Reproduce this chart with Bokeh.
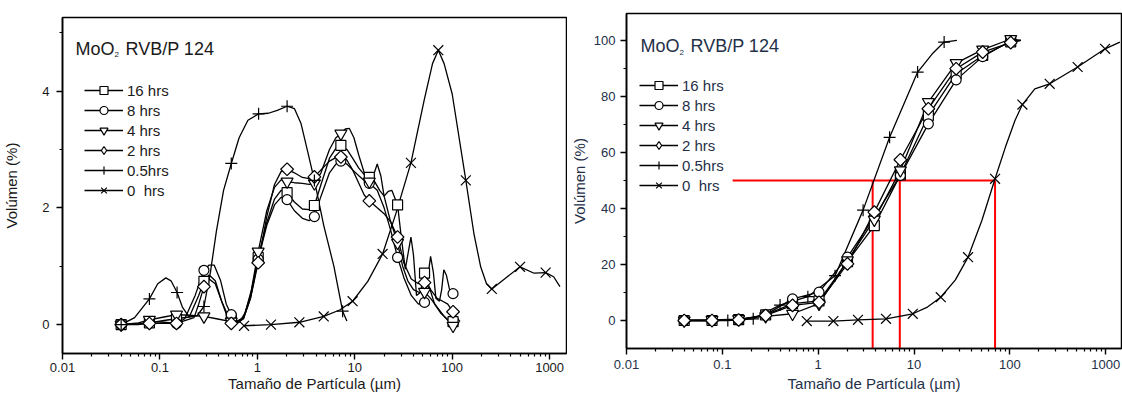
import numpy as np
from bokeh.plotting import figure
from bokeh.layouts import row
from bokeh.models import FixedTicker, CustomJSTickFormatter, Legend, LegendItem, Label
from bokeh.embed import file_html
from bokeh.resources import INLINE

FONT = "Liberation Sans"

# ---------------- tick labels ----------------
X_MAJOR = [0.01, 0.1, 1, 10, 100, 1000]
X_MINOR = [m * 10.0 ** e for e in range(-2, 4) for m in range(2, 10)]
L_Y_MAJOR = [0, 2, 4]
L_Y_MINOR = [1, 3, 5]
R_Y_MAJOR = [0, 20, 40, 60, 80, 100]
R_Y_MINOR = [10, 30, 50, 70, 90]

SERIES = ["16 hrs", "8 hrs", "4 hrs", "2 hrs", "0.5hrs", "0  hrs"]
X_TITLE = "Tamaño de Partícula (µm)"
Y_TITLE = "Volúmen (%)"

# ---------------- left panel: frequency distribution (%) ----------------
lx_mk = [0.04, 0.078, 0.148, 0.283, 0.54, 1.02, 2.02, 3.85, 7.2, 14.1, 27.5, 52, 102]
l16_mk = [0, 0.03, 0.10, 0.74, 0.10, 1.15, 2.26, 2.04, 3.07, 2.52, 2.05, 0.88, 0.05]
l8_mk = [0, 0.05, 0.02, 0.93, 0.17, 1.12, 2.14, 1.85, 2.80, 2.42, 1.15, 0.38, 0.53]
l4_mk = [0, 0.08, 0.17, 0.14, 0.05, 1.25, 2.45, 2.42, 3.27, 2.45, 1.40, 0.56, -0.02]
l2_mk = [0, 0.02, 0.02, 0.65, 0.02, 1.06, 2.66, 2.53, 2.87, 2.12, 1.50, 0.72, 0.22]
l05_x_mk = [0.04, 0.078, 0.15, 0.283, 0.54, 1.03, 2.02, 3.85, 7.5]
l05_mk = [0, 0.44, 0.55, 0.31, 2.76, 3.61, 3.74, 2.47, 0.23]
l0_x_mk = [0.73, 1.38, 2.7, 4.8, 9.5, 19.3, 37.7, 72, 138, 255, 497, 910]
l0_mk = [-0.02, 0.0, 0.04, 0.14, 0.40, 1.21, 2.77, 4.70, 2.47, 0.61, 0.99, 0.89]

l16_ln_x = [0.04, 0.06, 0.078, 0.11, 0.148, 0.2, 0.25, 0.283, 0.32, 0.37, 0.43, 0.5, 0.54, 0.62, 0.72, 0.85,
            1.02, 1.25, 1.5, 1.75, 2.02, 2.4, 2.9, 3.4, 3.85, 4.5, 5.5, 6.4, 7.2, 8.3, 9.5, 11, 12.5, 14.1,
            16, 18, 20, 22, 24, 27.5, 30, 33, 35.5, 37.7, 40, 43, 47, 52, 58, 66, 76, 88, 102, 115]
l16_ln = [0, 0.0, 0.03, 0.07, 0.10, 0.13, 0.5, 0.74, 0.85, 0.75, 0.4, 0.15, 0.10, 0.06, 0.12, 0.5,
          1.15, 1.75, 2.15, 2.3, 2.26, 2.1, 1.98, 1.97, 2.04, 2.4, 2.85, 3.02, 3.07, 3.0, 2.85, 2.68, 2.57, 2.52,
          2.45, 2.3, 2.2, 2.28, 2.3, 2.05, 1.5, 0.95, 1.25, 1.5, 1.2, 0.5, 0.55, 0.88, 0.65, 0.35, 0.2, 0.1, 0.05, 0.0]
l8_ln_x = [0.04, 0.06, 0.078, 0.11, 0.148, 0.18, 0.23, 0.283, 0.32, 0.36, 0.42, 0.48, 0.54, 0.62, 0.72, 0.85,
           1.02, 1.25, 1.5, 1.75, 2.02, 2.4, 2.9, 3.4, 3.85, 4.5, 5.5, 6.4, 7.2, 8.3, 9.5, 11, 12.5, 14.1,
           17, 20, 23.5, 27.5, 32, 38, 45, 52, 56, 60, 64, 68, 74, 78, 82, 87, 94, 102]
l8_ln = [0, 0.01, 0.05, 0.04, 0.02, 0.10, 0.5, 0.93, 1.02, 1.02, 0.75, 0.35, 0.17, 0.05, 0.10, 0.45,
         1.12, 1.7, 2.05, 2.18, 2.14, 1.95, 1.82, 1.78, 1.85, 2.2, 2.6, 2.75, 2.80, 2.75, 2.65, 2.55, 2.47, 2.42,
         2.3, 2.0, 1.6, 1.15, 0.8, 0.5, 0.35, 0.38, 0.8, 1.17, 0.9, 0.45, 0.4, 0.6, 0.94, 0.85, 0.6, 0.53]
l4_ln_x = [0.04, 0.06, 0.078, 0.11, 0.148, 0.2, 0.283, 0.38, 0.54, 0.65, 0.75, 0.87, 1.02, 1.25, 1.5, 1.75,
           2.02, 2.4, 2.9, 3.4, 3.85, 4.5, 5.5, 6.4, 7.2, 8.0, 8.8, 9.8, 11, 12.5, 14.1, 15.5, 17, 18.5, 20,
           23, 27.5, 31, 35, 40, 46, 52, 60, 70, 82, 95, 102, 115]
l4_ln = [0, 0.03, 0.08, 0.13, 0.17, 0.16, 0.14, 0.10, 0.05, 0.04, 0.2, 0.6, 1.25, 1.95, 2.35, 2.48,
         2.45, 2.43, 2.42, 2.40, 2.42, 2.6, 3.0, 3.2, 3.27, 3.35, 3.36, 3.2, 2.9, 2.6, 2.45, 2.55, 2.75, 2.55, 2.2,
         1.8, 1.40, 1.0, 0.75, 0.6, 0.55, 0.56, 0.45, 0.3, 0.15, 0.03, -0.02, 0.0]
l2_ln_x = [0.04, 0.06, 0.078, 0.11, 0.148, 0.19, 0.224, 0.25, 0.283, 0.32, 0.37, 0.43, 0.5, 0.54, 0.62, 0.72,
           0.85, 1.02, 1.25, 1.5, 1.75, 2.02, 2.4, 2.9, 3.4, 3.85, 4.5, 5.5, 6.4, 7.2, 8.3, 9.5, 11, 12.5, 14.1,
           17, 20, 23.5, 27.5, 32, 38, 45, 52, 60, 70, 80, 90, 102, 120]
l2_ln = [0, 0.01, 0.02, 0.02, 0.02, 0.08, 0.12, 0.35, 0.65, 0.78, 0.7, 0.4, 0.1, 0.02, 0.02, 0.1,
         0.45, 1.06, 1.85, 2.4, 2.62, 2.66, 2.6, 2.52, 2.5, 2.53, 2.65, 2.8, 2.86, 2.87, 2.82, 2.65, 2.42, 2.22, 2.12,
         2.0, 1.9, 1.75, 1.5, 1.05, 0.78, 0.7, 0.72, 0.6, 0.45, 0.4, 0.35, 0.22, 0.05]
l05_ln_x = [0.04, 0.055, 0.078, 0.095, 0.115, 0.13, 0.15, 0.17, 0.2, 0.24, 0.283, 0.33, 0.38, 0.45, 0.54,
            0.65, 0.8, 1.03, 1.3, 1.6, 2.02, 2.4, 2.8, 3.3, 3.85, 4.8, 6.1, 7.5, 8.3]
l05_ln = [0, 0.12, 0.44, 0.70, 0.80, 0.75, 0.55, 0.30, 0.13, 0.15, 0.31, 0.9, 1.6, 2.3, 2.76,
          3.2, 3.5, 3.61, 3.62, 3.67, 3.74, 3.70, 3.45, 2.95, 2.47, 1.7, 1.0, 0.23, 0.06]
l0_ln_x = [0.73, 1.38, 2.7, 4.8, 7.0, 9.5, 13.6, 19.3, 26.4, 37.7, 51.5, 62.8, 72, 82.6, 100, 138, 167,
           196, 225, 255, 368, 497, 692, 910, 1100, 1276]
l0_ln = [-0.02, 0.0, 0.04, 0.14, 0.25, 0.40, 0.74, 1.21, 1.9, 2.77, 3.84, 4.47, 4.70, 4.47, 3.95, 2.47, 1.56,
         0.99, 0.7, 0.61, 0.82, 0.99, 0.88, 0.89, 0.82, 0.65]

# ---------------- right panel: cumulative volume (%) ----------------
rx_mk = [0.04, 0.078, 0.148, 0.283, 0.54, 1.02, 2.02, 3.85, 7.2, 14.1, 27.5, 52, 102]
r16_mk = [0, 0, 0.3, 2.0, 6.0, 7.0, 21.0, 33.9, 52.0, 73.2, 88.1, 94.6, 99.5]
r8_mk = [0, 0, 0.2, 2.0, 7.7, 10.1, 22.6, 37.0, 51.8, 70.2, 85.9, 94.2, 99.8]
r4_mk = [0, 0.2, 0.5, 1.5, 2.4, 6.0, 21.5, 36.0, 53.6, 78.0, 91.9, 96.7, 100.5]
r2_mk = [0, 0, 0.2, 1.8, 5.4, 6.5, 20.2, 38.7, 57.4, 75.6, 89.9, 95.8, 99.2]
rx_ln = [0.04, 0.078, 0.148, 0.283, 0.54, 1.02, 2.02, 3.85, 7.2, 14.1, 27.5, 52, 102, 130]
r16_ln = [0, 0, 0.3, 2.0, 6.0, 7.0, 21.0, 33.9, 52.0, 73.2, 88.1, 94.6, 99.5, 100]
r8_ln = [0, 0, 0.2, 2.0, 7.7, 10.1, 22.6, 37.0, 51.8, 70.2, 85.9, 94.2, 99.8, 100]
r4_ln = [0, 0.2, 0.5, 1.5, 2.4, 6.0, 21.5, 36.0, 53.6, 78.0, 91.9, 96.7, 100.5, 100]
r2_ln = [0, 0, 0.2, 1.8, 5.4, 6.5, 20.2, 38.7, 57.4, 75.6, 89.9, 95.8, 99.2, 100]
r05_x_mk = [0.114, 0.21, 0.40, 0.78, 1.5, 2.94, 5.56, 10.9, 20.6]
r05_mk = [0, 0.6, 5.5, 8.5, 16.0, 39.4, 65.4, 88.7, 99.4]
r05_ln_x = [0.04, 0.114, 0.21, 0.40, 0.78, 1.5, 2.94, 5.56, 10.9, 15.5, 20.6, 28]
r05_ln = [0, 0, 0.6, 5.5, 8.5, 16.0, 39.4, 65.4, 88.7, 95.2, 99.4, 100]
r0_x_mk = [0.76, 1.44, 2.6, 5.1, 9.7, 19, 36.6, 70, 135, 260, 509, 984]
r0_mk = [-0.2, -0.2, 0.25, 0.6, 2.4, 8.3, 22.6, 50.6, 77.1, 84.5, 90.5, 97.0]
r0_ln_x = [0.76, 1.44, 2.6, 5.1, 9.7, 13.8, 19, 27, 36.6, 51, 70, 90, 113, 135, 182, 260, 509, 984, 1405]
r0_ln = [-0.2, -0.2, 0.25, 0.6, 2.4, 4.8, 8.3, 14.5, 22.6, 35.7, 50.6, 62, 71.4, 77.1, 82.7, 84.5, 90.5, 97.0, 99.4]

# D50 guide lines (red)
d50_sizes = [3.7, 7.1, 70]
d50_level = 50
guide_start = 0.128
guide_floor = -10


def make_panel(width, x_end, y_range, b_left, b_right, b_top, b_bottom, y_major, y_minor, ink,
               lab_standoff, y_title_standoff, x_lab_standoff, x_title_standoff):
    p = figure(width=width, height=394, x_axis_type="log", x_range=(0.01, x_end), y_range=y_range,
               output_backend="svg", toolbar_location=None, frame_align=False,
               min_border_left=b_left, min_border_right=b_right,
               min_border_top=b_top, min_border_bottom=b_bottom)
    p.xgrid.visible = False
    p.ygrid.visible = False
    p.outline_line_color = "black"
    p.outline_line_width = 1.5
    p.outline_line_alpha = 1.0
    p.background_fill_color = "white"
    p.border_fill_color = "white"
    p.xaxis.ticker = FixedTicker(ticks=X_MAJOR, minor_ticks=X_MINOR)
    p.xaxis.formatter = CustomJSTickFormatter(code="return String(tick);")
    p.yaxis.ticker = FixedTicker(ticks=y_major, minor_ticks=y_minor)
    for ax in (p.xaxis[0], p.yaxis[0]):
        ax.axis_line_width = 1.6
        ax.axis_line_color = "black"
        ax.major_tick_line_width = 1.4
        ax.minor_tick_line_width = 1.2
        ax.major_tick_line_color = "black"
        ax.minor_tick_line_color = "black"
        ax.major_tick_in = 0
        ax.major_tick_out = 6
        ax.minor_tick_in = 0
        ax.minor_tick_out = 3
        ax.major_label_text_font = FONT
        ax.major_label_text_font_size = "13px"
        ax.major_label_text_color = ink
        ax.major_label_text_line_height = 1.0
        ax.axis_label_text_font = FONT
        ax.axis_label_text_font_size = "15px"
        ax.axis_label_text_font_style = "normal"
        ax.axis_label_text_color = ink
        ax.axis_label_text_line_height = 1.0
    p.yaxis.major_label_standoff = lab_standoff
    p.yaxis.axis_label_standoff = y_title_standoff
    p.xaxis.major_label_standoff = x_lab_standoff
    p.xaxis.axis_label_standoff = x_title_standoff
    p.yaxis.axis_label = Y_TITLE
    p.xaxis.axis_label = X_TITLE
    return p


def add_series(p, lines, marks, legend_loc, ink):
    styles = [
        dict(marker="square", size=10, angle=0.0),
        dict(marker="circle", size=10, angle=0.0),
        dict(marker="inverted_triangle", size=12, angle=0.0),
        dict(marker="square", size=9, angle=np.pi / 4),
        dict(marker="cross", size=12, angle=0.0),
        dict(marker="x", size=14, angle=0.0),
    ]
    line_rs = []
    for (lx, ly) in lines:
        line_rs.append(p.line(lx, ly, line_color="black", line_width=1.3))
    mark_rs = []
    for (mx, my), st in zip(marks, styles):
        mark_rs.append(p.scatter(mx, my, marker=st["marker"], size=st["size"], angle=st["angle"],
                                 line_color="black", fill_color="white", line_width=1.2))
    # legend proxy for the diamond (legend glyphs ignore marker rotation); NaN -> nothing drawn in plot
    diamond_proxy = p.scatter([np.nan], [np.nan], marker="diamond", size=12,
                              line_color="black", fill_color="white", line_width=1.2)
    legend_marks = list(mark_rs)
    legend_marks[3] = diamond_proxy
    items = [LegendItem(label=lab, renderers=[lr, mr]) for lab, lr, mr in zip(SERIES, line_rs, legend_marks)]
    leg = Legend(items=items, location=legend_loc, glyph_width=39, glyph_height=20, label_height=20,
                 spacing=0, padding=0, margin=0, label_standoff=4, border_line_alpha=0,
                 background_fill_alpha=0, label_text_font=FONT, label_text_font_size="15px",
                 label_text_color=ink)
    p.add_layout(leg)


def add_title(p, x0, base, sub_base, ink):
    p.add_layout(Label(x=x0, y=base, x_units="screen", y_units="screen", text="MoO",
                       text_font=FONT, text_font_size="18px", text_baseline="alphabetic", text_color=ink))
    p.add_layout(Label(x=x0 + 39, y=sub_base, x_units="screen", y_units="screen", text="2",
                       text_font=FONT, text_font_size="8px", text_baseline="alphabetic", text_color=ink))
    p.add_layout(Label(x=x0 + 50, y=base, x_units="screen", y_units="screen", text="RVB/P 124",
                       text_font=FONT, text_font_size="18px", text_baseline="alphabetic", text_color=ink))


LINK = "#1a1a1a"
RINK = "#243048"

left = make_panel(567, 1490, (-0.495, 5.26), 61, 1, 17, 40, L_Y_MAJOR, L_Y_MINOR, LINK, 7, 19, 3, 0)
add_series(left,
           [(l16_ln_x, l16_ln), (l8_ln_x, l8_ln), (l4_ln_x, l4_ln), (l2_ln_x, l2_ln),
            (l05_ln_x, l05_ln), (l0_ln_x, l0_ln)],
           [(lx_mk, l16_mk), (lx_mk, l8_mk), (lx_mk, l4_mk), (lx_mk, l2_mk),
            (l05_x_mk, l05_mk), (l0_x_mk, l0_mk)],
           (22, 153), LINK)
add_title(left, 13, 305, 299, LINK)

right = make_panel(555, 1460, (-10, 109.6), 54, 1, 13, 46, R_Y_MAJOR, R_Y_MINOR, RINK, 5, 3, 5, 3)
# red D50 guides
gx0 = [guide_start] + d50_sizes
gx1 = [d50_sizes[-1]] + d50_sizes
gy0 = [d50_level] * (len(d50_sizes) + 1)
gy1 = [d50_level] + [guide_floor] * len(d50_sizes)
right.segment(x0=gx0, y0=gy0, x1=gx1, y1=gy1, line_color="#ff0000", line_width=2)
add_series(right,
           [(rx_ln, r16_ln), (rx_ln, r8_ln), (rx_ln, r4_ln), (rx_ln, r2_ln),
            (r05_ln_x, r05_ln), (r0_ln_x, r0_ln)],
           [(rx_mk, r16_mk), (rx_mk, r8_mk), (rx_mk, r4_mk), (rx_mk, r2_mk),
            (r05_x_mk, r05_mk), (r0_x_mk, r0_mk)],
           (13, 153), RINK)
add_title(right, 14, 303, 296, RINK)

layout = row(left, right)
open("out.html", "w").write(file_html(layout, INLINE))
